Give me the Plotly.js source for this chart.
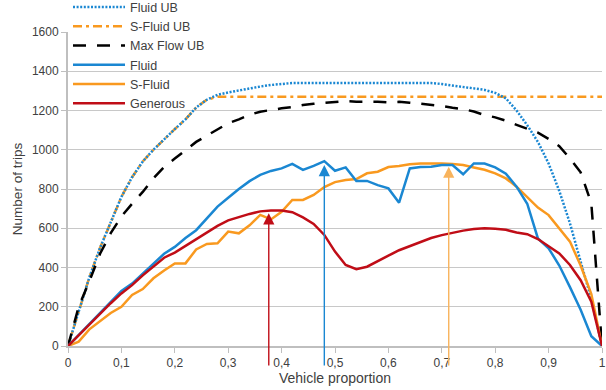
<!DOCTYPE html>
<html>
<head>
<meta charset="utf-8">
<script src="https://cdn.plot.ly/plotly-3.0.1.min.js"></script>
<style>html,body{margin:0;padding:0;background:#fff}#chart{width:606px;height:390px}</style>
</head>
<body>
<div id="chart"></div>
<script>
var proportion = [0,0.02,0.04,0.06,0.08,0.10,0.12,0.14,0.16,0.18,0.20,0.22,0.24,0.26,0.28,0.30,0.32,0.34,0.36,0.38,0.40,0.42,0.44,0.46,0.48,0.50,0.52,0.54,0.56,0.58,0.60,0.62,0.64,0.66,0.68,0.70,0.72,0.74,0.76,0.78,0.80,0.82,0.84,0.86,0.88,0.90,0.92,0.94,0.96,0.98,1.00];

var fluidUB = [0,170,350,500,630,760,860,940,1000,1055,1105,1155,1215,1255,1280,1292,1303,1313,1322,1330,1336,1340,1340,1340,1340,1340,1340,1340,1340,1340,1340,1340,1340,1340,1340,1335,1328,1320,1312,1305,1290,1262,1200,1125,1040,930,790,625,430,240,0];

var sFluidUB = [0,170,350,500,630,760,860,940,1000,1055,1105,1155,1215,1255,1270,1270,1270,1270,1270,1270,1270,1270,1270,1270,1270,1270,1270,1270,1270,1270,1270,1270,1270,1270,1270,1270,1270,1270,1270,1270,1270,1270,1270,1270,1270,1270,1270,1270,1270,1270,1270];

var maxFlowUB = [0,200,330,470,575,660,725,785,855,912,955,998,1040,1072,1105,1135,1155,1178,1194,1204,1211,1218,1228,1234,1238,1243,1248,1245,1246,1245,1242,1244,1240,1235,1230,1223,1214,1207,1195,1177,1165,1148,1127,1107,1087,1055,1018,956,885,727,0];

var fluid = [0,55,110,170,225,280,318,370,420,470,505,550,590,650,710,755,800,840,872,892,905,928,897,918,942,893,910,841,841,820,803,730,905,912,914,922,922,875,930,930,910,878,812,725,548,498,410,300,185,50,0];

var sFluid = [0,22,85,125,168,200,260,290,345,385,421,421,492,520,523,583,574,615,668,645,684,744,744,770,810,835,846,851,880,888,912,917,926,930,931,930,927,922,910,898,880,854,812,760,705,667,602,532,410,265,0];

var generous = [0,55,110,165,218,268,310,360,405,450,476,510,545,580,612,640,657,673,686,690,690,682,655,622,566,481,413,391,404,430,460,488,510,532,550,565,578,588,596,600,598,592,578,570,545,510,472,413,335,226,0];

var xTickVals = [0,0.1,0.2,0.3,0.4,0.5,0.6,0.7,0.8,0.9,1];
var xTickText = ['0','0,1','0,2','0,3','0,4','0,5','0,6','0,7','0,8','0,9','1'];

var arrowX = [0.376, 0.48, 0.713];
var arrowTip = [676, 922, 914];
var arrowTail = -107;

var cBlue = '#1a87d2', cOrange = '#f9991f', cRed = '#c00d17';
var arrowColors = ['#c00d17', '#1a87d2', '#f8b35c'];
var legendNames = ['Fluid UB','S-Fluid UB','Max Flow UB','Fluid','S-Fluid','Generous'];

var traces = [
  {x: proportion, y: fluidUB, name: legendNames[0], mode: 'lines', line: {color: cBlue, width: 2.5, dash: '2px,1.6px'}},
  {x: proportion, y: sFluidUB, name: legendNames[1], mode: 'lines', line: {color: cOrange, width: 2.5, dash: '9px,4px,3px,4px'}},
  {x: proportion, y: maxFlowUB, name: legendNames[2], mode: 'lines', line: {color: '#000000', width: 2.5, dash: '13px,11px'}},
  {x: proportion, y: fluid, name: legendNames[3], mode: 'lines', line: {color: cBlue, width: 2.5}},
  {x: proportion, y: sFluid, name: legendNames[4], mode: 'lines', line: {color: cOrange, width: 2.5}},
  {x: proportion, y: generous, name: legendNames[5], mode: 'lines', line: {color: cRed, width: 2.5}}
];
traces.forEach(function (t, i) { t.legendrank = i + 1; });
// draw Fluid UB on top of S-Fluid UB where they coincide
var order = [traces[1], traces[0], traces[2], traces[4], traces[3], traces[5]];

var annotations = arrowX.map(function (ax, i) {
  return {x: ax, y: arrowTip[i], ax: ax, ay: arrowTail, xref: 'x', yref: 'y', axref: 'x', ayref: 'y',
    text: '', showarrow: true, arrowhead: 2, arrowsize: 1.6, arrowwidth: 1.4, arrowcolor: arrowColors[i]};
});

var layout = {
  width: 606, height: 390,
  margin: {l: 68, r: 4, t: 32, b: 44, autoexpand: false},
  paper_bgcolor: '#ffffff', plot_bgcolor: '#ffffff',
  font: {family: 'Liberation Sans, Arial, sans-serif', size: 12, color: '#404040'},
  showlegend: true,
  legend: {x: 0, y: 1.126, xanchor: 'left', yanchor: 'top', bgcolor: 'rgba(0,0,0,0)', traceorder: 'normal',
    font: {size: 12.5, color: '#404040'}, itemwidth: 52, tracegroupgap: 0},
  xaxis: {range: [0, 1], tickvals: xTickVals, ticktext: xTickText, showgrid: false, zeroline: false,
    showline: true, linecolor: '#bfbfbf', linewidth: 2, ticks: 'outside', ticklen: 5, tickcolor: '#bfbfbf', tickwidth: 1,
    title: {text: 'Vehicle proportion', font: {size: 14, color: '#404040'}, standoff: 3}, fixedrange: true},
  yaxis: {range: [0, 1600], dtick: 200, showgrid: true, gridcolor: '#c8c8c8', gridwidth: 1, zeroline: false,
    showline: true, linecolor: '#bfbfbf', linewidth: 2, ticks: 'outside', ticklen: 5, tickcolor: '#bfbfbf', tickwidth: 1,
    title: {text: 'Number of trips', font: {size: 13.5, color: '#404040'}, standoff: 6}, fixedrange: true},
  annotations: annotations
};

Plotly.newPlot('chart', order, layout, {displayModeBar: false, staticPlot: true});
</script>
</body>
</html>
